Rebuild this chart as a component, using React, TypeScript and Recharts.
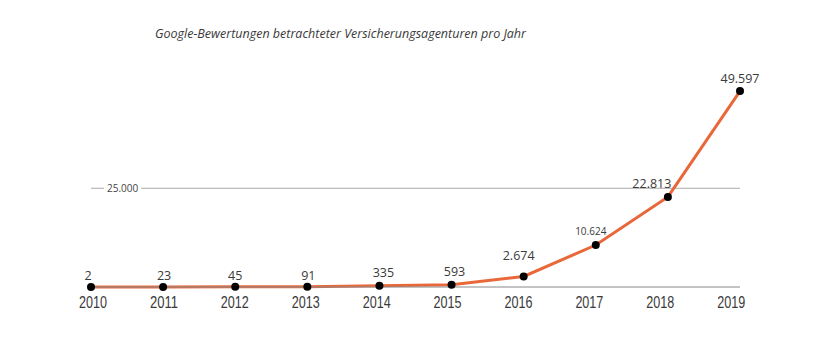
import React from "react";
import { LineChart, Line, XAxis, YAxis, ReferenceLine, LabelList } from "recharts";

const years = ["2010", "2011", "2012", "2013", "2014", "2015", "2016", "2017", "2018", "2019"];
const reviews = [2, 23, 45, 91, 335, 593, 2674, 10624, 22813, 49597];
const valueLabels = ["2", "23", "45", "91", "335", "593", "2.674", "10.624", "22.813", "49.597"];

// small label nudges so labels sit like in the original
const LABEL_DX = [-3, 1, 0, 1, 4, 3, -5, -5, -16, 0];
const LABEL_DY = [-7, -7, -7, -7, -9, -9, -16, -10, -9, -8];

const data = years.map((y, i) => ({ year: y, value: reviews[i], label: valueLabels[i] }));

const ORANGE = "#E8683A";
const FONT = "'Open Sans', 'Noto Sans', sans-serif";

const renderValueLabel = (props: any) => {
  const { x, y, index, value } = props;
  const small = index === 7;
  return (
    <text
      x={x + LABEL_DX[index]}
      y={y + LABEL_DY[index]}
      textAnchor="middle"
      fontSize={small ? 10 : 12.5}
      fontFamily={FONT}
      fill="#3a3a3a"
    >
      {value}
    </text>
  );
};

const renderTick = (props: any) => {
  const { x, y, payload, index } = props;
  return (
    <text
      x={x + 2 - index * 1.2}
      y={y + 13}
      textAnchor="middle"
      fontSize={17}
      fontFamily="'Liberation Sans', Arial, sans-serif"
      textLength={28}
      lengthAdjust="spacingAndGlyphs"
      fill="#3a3a3a"
    >
      {payload.value}
    </text>
  );
};

const renderGridLabel = (props: any) => {
  const { viewBox } = props;
  const { x, y } = viewBox;
  return (
    <g>
      <rect x={x + 13} y={y - 6} width={37} height={12} fill="#fff" />
      <text
        x={x + 16}
        y={y}
        dominantBaseline="central"
        fontSize={10}
        fontFamily={FONT}
        fill="#444"
      >
        25.000
      </text>
    </g>
  );
};

const App: React.FC = () => {
  return (
    <div style={{ position: "absolute", left: 0, top: 0, width: 820, height: 360, background: "#fff" }}>
      <div
        style={{
          position: "absolute",
          left: 155,
          top: 27,
          fontFamily: FONT,
          fontStyle: "italic",
          fontSize: 12.5,
          lineHeight: "14px",
          color: "#3a3a3a",
          whiteSpace: "nowrap",
        }}
      >
        Google-Bewertungen betrachteter Versicherungsagenturen pro Jahr
      </div>
      <LineChart width={820} height={360} data={data} margin={{ top: 50, right: 80, bottom: 43, left: 91 }}>
        <YAxis hide domain={[0, 60000]} />
        <ReferenceLine
          y={25000}
          stroke="#aaa"
          strokeWidth={1}
          label={renderGridLabel}
          ifOverflow="visible"
        />
        <XAxis
          dataKey="year"
          height={30}
          axisLine={{ stroke: "#888", strokeWidth: 1 }}
          tickLine={false}
          tick={renderTick}
          interval={0}
        />
        <Line
          type="linear"
          dataKey="value"
          stroke={ORANGE}
          strokeWidth={3}
          dot={{ r: 4, fill: "#000", stroke: "#000", strokeWidth: 0 }}
          activeDot={false}
          isAnimationActive={false}
        >
          <LabelList dataKey="label" content={renderValueLabel} />
        </Line>
      </LineChart>
    </div>
  );
};

export default App;
